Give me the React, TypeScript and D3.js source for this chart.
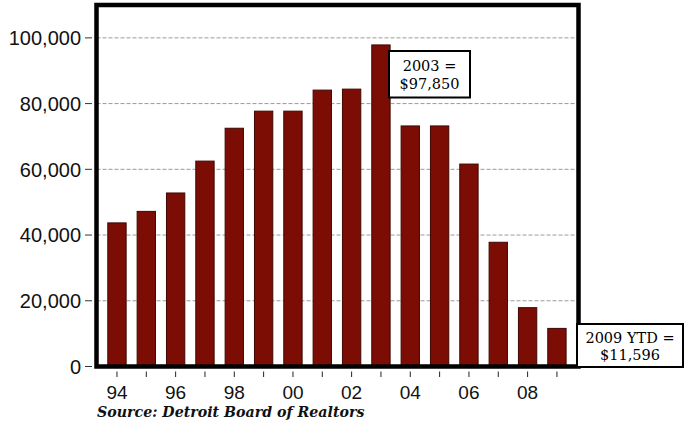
import React from 'react';
import * as d3 from 'd3';

// Detroit median home sale price, 1994 - 2009 YTD
const years = ['94', '95', '96', '97', '98', '99', '00', '01', '02', '03', '04', '05', '06', '07', '08', '09'];
const prices = [43700, 47200, 52800, 62500, 72500, 77700, 77700, 84100, 84400, 97850, 73200, 73200, 61600, 37800, 17900, 11596];
const yTicks = [0, 20000, 40000, 60000, 80000, 100000];
const labeledYears = ['94', '96', '98', '00', '02', '04', '06', '08'];

const W = 687;
const H = 425;

const App: React.FC = () => {
  const frame = { left: 96.5, right: 578.5, top: 5, bottom: 366.5 };

  const x = d3.scaleBand<string>()
    .domain(years)
    .range([102.3, 571.6])
    .paddingInner(0.375)
    .paddingOuter(0.1875);

  const y = d3.scaleLinear()
    .domain([0, 110000])
    .range([frame.bottom, frame.top]);

  const fmt = d3.format(',');
  const center = (d: string) => (x(d) ?? 0) + x.bandwidth() / 2;

  return (
    <svg width={W} height={H} style={{ position: 'absolute', left: 0, top: 0, background: '#fff' }}>
      {/* gridlines */}
      {yTicks.filter(t => t > 0).map(t => (
        <line key={'g' + t} x1={frame.left} x2={frame.right} y1={y(t)} y2={y(t)}
          stroke="#9a9a9a" strokeWidth={1} strokeDasharray="4,2" />
      ))}

      {/* bars */}
      {years.map((yr, i) => (
        <rect key={yr} x={x(yr)} y={y(prices[i])} width={x.bandwidth()} height={frame.bottom - y(prices[i])}
          fill="#7c0d05" stroke="#3d0703" strokeWidth={1} />
      ))}

      {/* frame */}
      <rect x={frame.left} y={frame.top} width={frame.right - frame.left} height={frame.bottom - frame.top}
        fill="none" stroke="#000" strokeWidth={4.5} />

      {/* y axis */}
      {yTicks.map(t => (
        <g key={'y' + t}>
          <line x1={85} x2={92} y1={y(t)} y2={y(t)} stroke="#333" strokeWidth={1} />
          <text x={81} y={y(t)} dy="0.36em" textAnchor="end" fontFamily="Liberation Sans, Arial, sans-serif"
            fontSize={20} fill="#111">{fmt(t)}</text>
        </g>
      ))}

      {/* x axis */}
      {years.map(yr => (
        <line key={'t' + yr} x1={center(yr)} x2={center(yr)} y1={371.5} y2={377} stroke="#222" strokeWidth={1} />
      ))}
      {labeledYears.map(yr => (
        <text key={'l' + yr} x={center(yr)} y={392} dy="0.36em" textAnchor="middle"
          fontFamily="Liberation Sans, Arial, sans-serif" fontSize={19} fill="#111">{yr}</text>
      ))}

      {/* annotations */}
      <g>
        <rect x={389} y={51} width={81} height={46.5} fill="#fff" stroke="#000" strokeWidth={2} />
        <text x={429.5} y={66} dy="0.36em" textAnchor="middle" fontFamily="DejaVu Serif, serif" fontSize={14.5} fill="#000">2003 =</text>
        <text x={429.5} y={84} dy="0.36em" textAnchor="middle" fontFamily="DejaVu Serif, serif" fontSize={14.5} fill="#000">$97,850</text>
      </g>
      <g>
        <rect x={577} y={324} width={106} height={43} fill="#fff" stroke="#000" strokeWidth={2} />
        <text x={630} y={338} dy="0.36em" textAnchor="middle" fontFamily="DejaVu Serif, serif" fontSize={14.5} fill="#000">2009 YTD =</text>
        <text x={630} y={355} dy="0.36em" textAnchor="middle" fontFamily="DejaVu Serif, serif" fontSize={14.5} fill="#000">$11,596</text>
      </g>

      {/* source */}
      <text x={97} y={417} fontFamily="DejaVu Serif, serif" fontStyle="italic" fontWeight="bold" fontSize={14.2} fill="#111">
        Source: Detroit Board of Realtors
      </text>
    </svg>
  );
};

export default App;
